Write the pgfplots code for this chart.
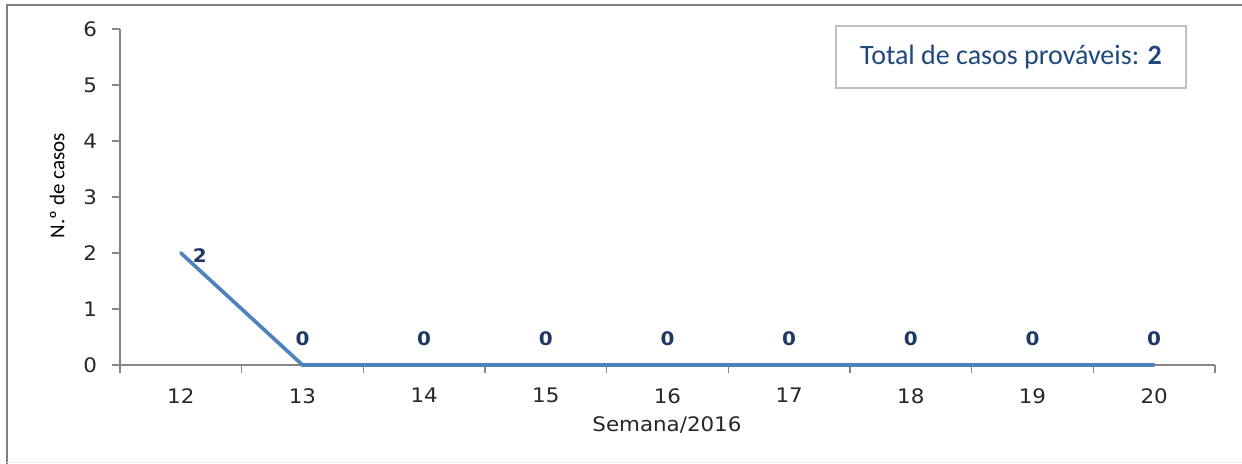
\documentclass[border=0pt]{standalone}
\usepackage{fontspec}
\setmainfont{DejaVu Sans}[FakeStretch=1.07]
\newfontfamily\carlito{Carlito}
\usepackage{pgfplots}
\pgfplotsset{compat=1.18}
\definecolor{serie}{HTML}{4F81BD}
\definecolor{lbl}{HTML}{1F3864}
\definecolor{boxtxt}{HTML}{1F497D}
\definecolor{boxgray}{HTML}{BFBFBF}
\definecolor{axgray}{HTML}{868686}
\definecolor{tickc}{HTML}{262626}
\begin{document}
\begin{tikzpicture}[x=0.6pt,y=0.6pt]
\useasboundingbox (0,0) rectangle (1242,464);
\draw[color=black!50, line width=1.2pt] (7,0) -- (7,459) -- (1242,459);
\draw[color=black!8, line width=0.6pt] (7,1.5) -- (1242,1.5);
\begin{axis}[
  at={(72pt,59.4pt)}, anchor=south west,
  scale only axis, width=657pt, height=201.6pt,
  xmin=11.5, xmax=20.5, ymin=0, ymax=6,
  axis x line*=bottom, axis y line*=left,
  clip=false,
  xtick={11.5,12.5,...,20.5}, xticklabels={},
  extra x ticks={12,13,14,15,16,17,18,19,20},
  extra x tick style={tick style={draw=none}, xticklabel style={yshift=-5.6pt}},
  ytick={0,1,2,3,4,5,6},
  tick align=outside, major tick length=4.8pt,
  axis line style={axgray, line width=0.8pt},
  tick style={axgray, line width=0.8pt},
  ticklabel style={font=\fontsize{12}{14}\selectfont, text=tickc},
  yticklabel style={xshift=-5.5pt},
  /pgf/number format/assume math mode=true,
  xlabel={Semana/2016},
  xlabel style={font=\fontsize{12}{14}\selectfont, text=tickc, at={(axis description cs:0.4995,-0.1786)}, anchor=center},
  ylabel={N.º de casos},
  ylabel style={font=\carlito\fontsize{12.6}{14}\selectfont, text=black, at={(axis description cs:-0.0575,0.533)}, anchor=center},
]
\addplot[serie, line width=2.2pt, mark=none, line cap=round] coordinates {(12,2) (13,0) (14,0) (15,0) (16,0) (17,0) (18,0) (19,0) (20,0)};
\addplot[draw=none, mark=none, nodes near coords,
  every node near coord/.append style={anchor=center, yshift=16pt, text=lbl, font=\bfseries\fontsize{11.2}{13}\selectfont}]
  coordinates {(13,0) (14,0) (15,0) (16,0) (17,0) (18,0) (19,0) (20,0)};
\addplot[draw=none, mark=none, nodes near coords,
  every node near coord/.append style={anchor=center, xshift=11.4pt, yshift=-1.5pt, text=lbl, font=\bfseries\fontsize{11.2}{13}\selectfont}]
  coordinates {(12,2)};
\end{axis}
\node[draw=boxgray, line width=0.9pt, minimum width=210pt, minimum height=37.2pt, inner sep=0pt, text=boxtxt, font=\carlito\fontsize{16.8}{20}\selectfont] at (1011,407) {Total de casos prováveis: \textbf{2}};
\end{tikzpicture}
\end{document}
